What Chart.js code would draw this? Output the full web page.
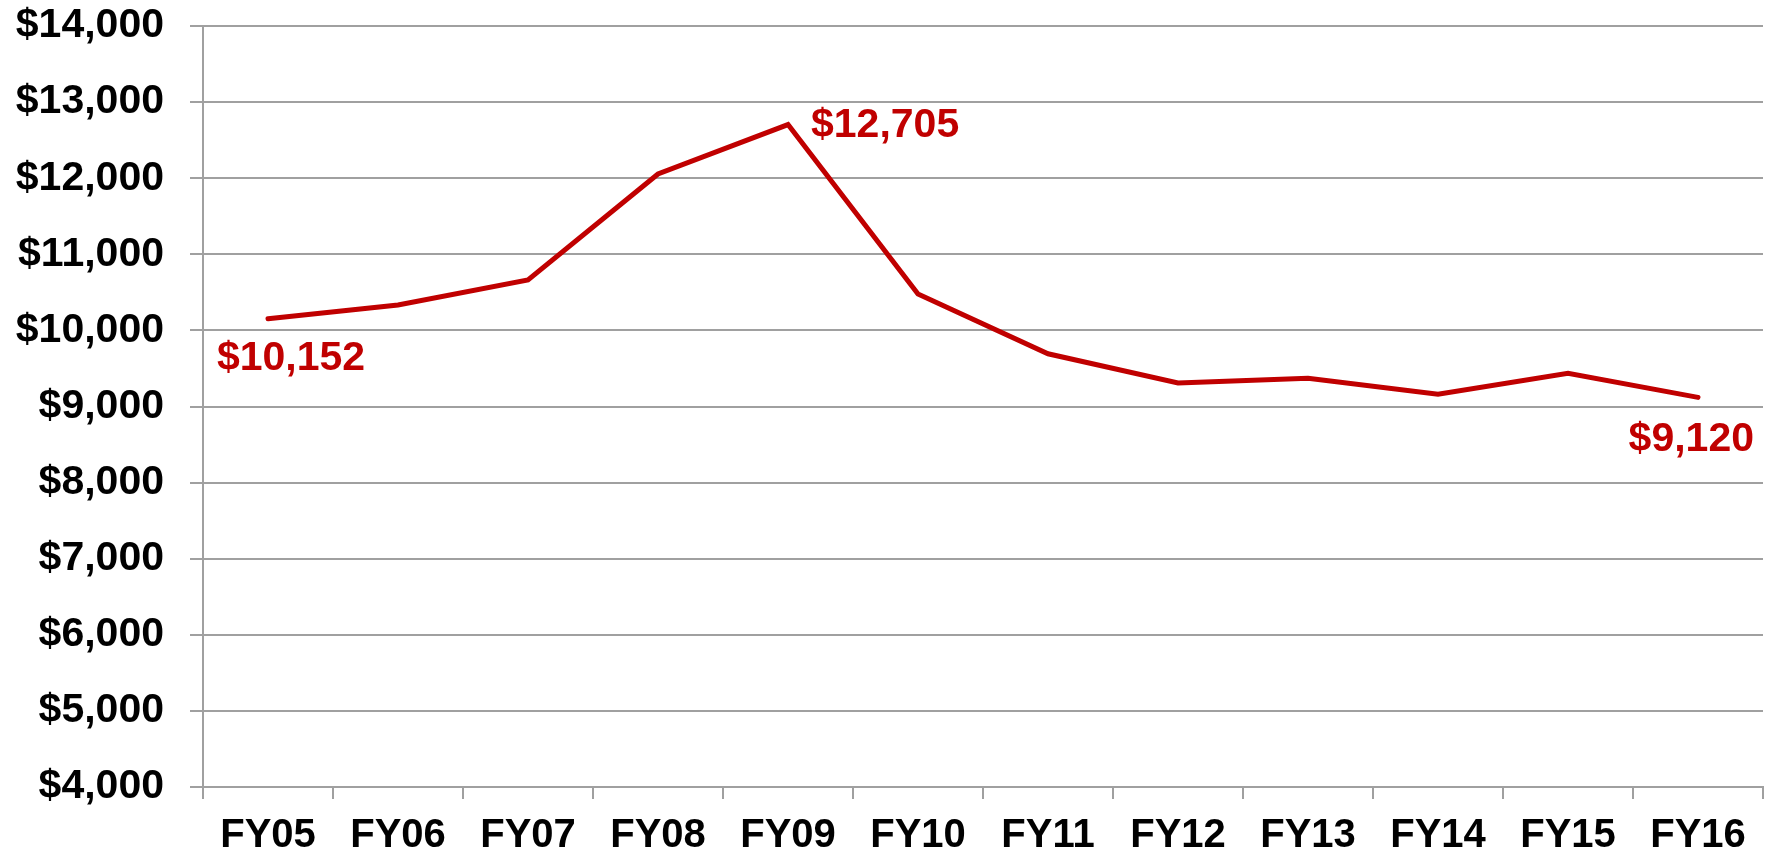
<!DOCTYPE html>
<html>
<head>
<meta charset="utf-8">
<script src="https://cdn.jsdelivr.net/npm/chart.js@4/dist/chart.umd.min.js"></script>
<style>
  body { margin: 0; background: #fff; }
</style>
</head>
<body>
<canvas id="linha" width="1776" height="857"></canvas>
<script>
const anos = ["FY05", "FY06", "FY07", "FY08", "FY09", "FY10", "FY11", "FY12", "FY13", "FY14", "FY15", "FY16"];
const valores = [10152, 10334, 10662, 12055, 12705, 10479, 9693, 9310, 9370, 9160, 9438, 9120];
const marcados = [0, 4, 11]; // pontos com rótulo

const vermelho = "#c00000";
const cinza = "#a0a0a0";
const fonte = "'Liberation Sans', Arial, sans-serif";
const dinheiro = (v) => "$" + v.toLocaleString("en-US");

// rótulos dos pontos marcados
const rotulos = {
  id: "rotulos",
  afterDatasetsDraw(chart) {
    const ctx = chart.ctx;
    const pts = chart.getDatasetMeta(0).data;
    ctx.save();
    ctx.font = "bold 41px " + fonte;
    ctx.fillStyle = vermelho;
    ctx.textBaseline = "middle";
    marcados.forEach((i) => {
      const p = pts[i];
      const txt = dinheiro(valores[i]);
      if (i === 0) {
        ctx.textAlign = "center";
        ctx.fillText(txt, p.x + 23, p.y + 40);
      } else if (i === anos.length - 1) {
        ctx.textAlign = "right";
        ctx.fillText(txt, p.x + 56, p.y + 42);
      } else {
        ctx.textAlign = "left";
        ctx.fillText(txt, p.x + 23, p.y + 1);
      }
    });
    ctx.restore();
  },
};

const ctx = document.getElementById("linha").getContext("2d");
const grafico = new Chart(ctx, {
  type: "line",
  data: {
    labels: anos,
    datasets: [
      {
        data: valores,
        borderColor: vermelho,
        borderWidth: 5,
        borderCapStyle: "round",
        borderJoinStyle: "miter",
        pointRadius: 0,
        tension: 0,
        fill: false,
      },
    ],
  },
  options: {
    responsive: false,
    animation: false,
    layout: { padding: { left: 0, right: 13, top: 0, bottom: 0 } },
    plugins: {
      legend: { display: false },
      tooltip: { enabled: false },
    },
    scales: {
      x: {
        offset: true,
        afterFit: (s) => {
          s.height = 70;
          s.paddingLeft = 0;
          s.paddingRight = 0;
        },
        grid: {
          offset: true,
          drawOnChartArea: false,
          color: cinza,
          lineWidth: 2,
          tickLength: 12,
        },
        border: { color: cinza, width: 2 },
        ticks: {
          color: "#000",
          padding: 17,
          maxRotation: 0,
          font: { family: fonte, size: 40, weight: "bold", lineHeight: 1 },
        },
      },
      y: {
        min: 4000,
        max: 14000,
        afterFit: (s) => {
          s.width = 203;
          s.paddingTop = 26;
          s.paddingBottom = 0;
        },
        grid: { color: cinza, lineWidth: 2, tickLength: 13 },
        border: { color: cinza, width: 2 },
        ticks: {
          stepSize: 1000,
          color: "#000",
          padding: 26,
          callback: (v) => dinheiro(v),
          font: { family: fonte, size: 41, weight: "bold" },
        },
      },
    },
  },
  plugins: [rotulos],
});
</script>
</body>
</html>
